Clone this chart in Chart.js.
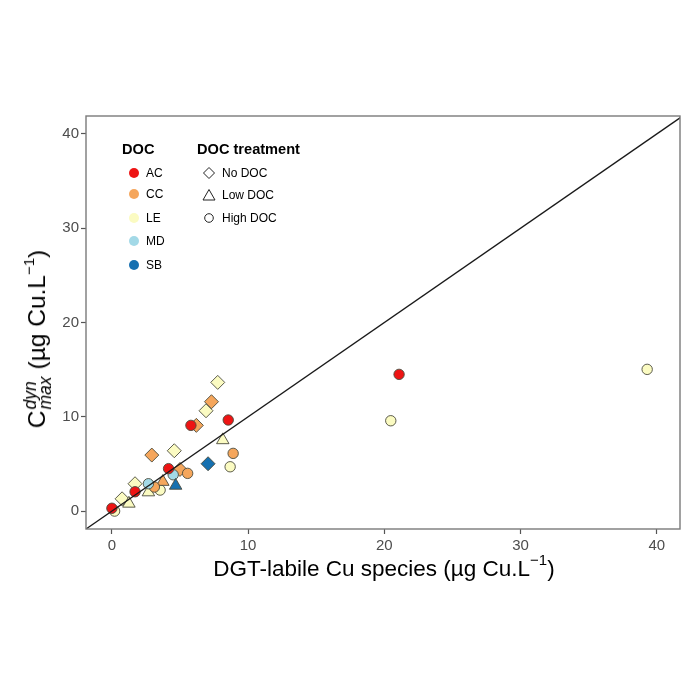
<!DOCTYPE html>
<html>
<head>
<meta charset="utf-8">
<script src="https://cdn.jsdelivr.net/npm/chart.js@4.4.0/dist/chart.umd.min.js"></script>
<style>
  html,body{margin:0;padding:0;background:#fff;}
  #wrap{position:relative;width:700px;height:700px;font-family:"Liberation Sans",Arial,Helvetica,sans-serif;color:#000;}
  #c{position:absolute;left:0;top:0;}
  .xt{position:absolute;left:0;width:700px;top:556px;text-align:center;font-size:22.5px;white-space:nowrap;}
  .xt span.in{position:relative;left:34px;}
  .yt{position:absolute;left:38px;top:339px;width:0;height:0;}
  .yt .rot{position:absolute;left:0;top:0;transform:translate(-50%,-50%) rotate(-90deg);white-space:nowrap;font-size:24.5px;}
  .ss{display:inline-block;vertical-align:-6px;line-height:15px;font-size:17.5px;font-style:italic;margin-left:1px;margin-right:7px;text-align:left;}
  .ss span{display:block;}
  sup.m{font-size:15px;vertical-align:11px;line-height:0;}
  .lg{position:absolute;font-size:12px;white-space:nowrap;}
  .lh{position:absolute;font-size:14.6px;font-weight:bold;white-space:nowrap;}
  .sym{position:absolute;}
</style>
</head>
<body>
<div id="wrap">
  <canvas id="c" width="700" height="700"></canvas>
  <div class="xt"><span class="in">DGT-labile Cu species (µg Cu.L<sup class="m">−1</sup>)</span></div>
  <div class="yt"><div class="rot">C<span class="ss"><span>dyn</span><span>max</span></span>(µg Cu.L<sup class="m">−1</sup>)</div></div>
  <div id="legend"></div>
</div>
<script>
// ---- data ----
const xTicks = [0, 10, 20, 30, 40];
const yTicks = [0, 10, 20, 30, 40];
const siteNames = ['AC', 'CC', 'LE', 'MD', 'SB'];
const treatmentNames = ['No DOC', 'Low DOC', 'High DOC'];

const acX = [21.08, 8.54, 5.80, 4.16, 1.70, 0.00];
const acY = [14.50, 9.66, 9.09, 4.50, 2.05, 0.30];
const acT = ['High DOC', 'High DOC', 'High DOC', 'High DOC', 'High DOC', 'High DOC'];

const ccX = [7.31, 6.20, 2.93, 8.90, 5.00, 5.56, 3.74, 3.12];
const ccY = [11.60, 9.09, 5.94, 6.12, 4.42, 4.00, 3.11, 2.55];
const ccT = ['No DOC', 'No DOC', 'No DOC', 'High DOC', 'No DOC', 'High DOC', 'Low DOC', 'High DOC'];

const leX = [7.77, 6.91, 8.14, 4.58, 8.68, 3.54, 2.68, 1.70, 0.75, 1.25, 0.20, 20.47, 39.29];
const leY = [13.65, 10.64, 7.53, 6.40, 4.70, 2.23, 2.00, 2.90, 1.30, 0.80, 0.00, 9.58, 15.03];
const leT = ['No DOC', 'No DOC', 'Low DOC', 'No DOC', 'High DOC', 'High DOC', 'Low DOC', 'No DOC', 'No DOC', 'Low DOC', 'High DOC', 'High DOC', 'High DOC'];

const mdX = [2.68, 4.50];
const mdY = [2.90, 3.85];
const mdT = ['High DOC', 'High DOC'];

const sbX = [7.06, 4.68];
const sbY = [5.02, 2.70];
const sbT = ['No DOC', 'Low DOC'];

const refLineX = [-5, 50];
const refLineY = [-5, 50];

// ---- styles ----
const siteColors = {AC: '#ee1414', CC: '#f5a65c', LE: '#fbfbc2', MD: '#a3d9e7', SB: '#1670b0'};
const shapeOf = {'No DOC': 'rectRot', 'Low DOC': 'triangle', 'High DOC': 'circle'};
const sizeOf = {'No DOC': 7, 'Low DOC': 7.2, 'High DOC': 5.2};

function pts(xs, ys, ts) { return xs.map((x, i) => ({x: x, y: ys[i], t: ts[i]})); }

function siteDataset(name, xs, ys, ts) {
  return {
    type: 'scatter',
    label: name,
    data: pts(xs, ys, ts),
    backgroundColor: siteColors[name],
    borderColor: '#4b4b3c',
    borderWidth: 0.9,
    pointStyle: c => shapeOf[c.raw.t],
    pointRadius: c => sizeOf[c.raw.t],
    pointHoverRadius: c => sizeOf[c.raw.t]
  };
}

const boxPlugin = {
  id: 'box',
  afterDraw(chart) {
    const a = chart.chartArea, ctx = chart.ctx;
    ctx.save();
    ctx.strokeStyle = '#7a7a7a';
    ctx.lineWidth = 1.4;
    ctx.strokeRect(a.left, a.top, a.right - a.left, a.bottom - a.top);
    ctx.restore();
  }
};

const tickFont = {family: '"Liberation Sans", Arial, sans-serif', size: 15};

new Chart(document.getElementById('c'), {
  type: 'scatter',
  data: {
    datasets: [
      {
        type: 'line',
        label: 'y = x',
        data: refLineX.map((x, i) => ({x: x, y: refLineY[i]})),
        borderColor: '#1a1a1a',
        borderWidth: 1.3,
        pointRadius: 0,
        fill: false
      },
      siteDataset('SB', sbX, sbY, sbT),
      siteDataset('AC', acX, acY, acT),
      siteDataset('MD', mdX, mdY, mdT),
      siteDataset('CC', ccX, ccY, ccT),
      siteDataset('LE', leX, leY, leT)
    ]
  },
  options: {
    responsive: false,
    animation: false,
    devicePixelRatio: 1,
    layout: {padding: {left: 0, right: 20, top: 116, bottom: 0}},
    plugins: {legend: {display: false}, tooltip: {enabled: false}},
    scales: {
      x: {
        type: 'linear', min: -1.9, max: 41.7,
        afterBuildTicks: ax => { ax.ticks = xTicks.map(v => ({value: v})); },
        afterFit: ax => { ax.height = 171; },
        grid: {drawOnChartArea: false, drawTicks: true, tickLength: 5, tickColor: '#555', tickWidth: 1.2},
        border: {display: false},
        ticks: {font: tickFont, color: '#4d4d4d', padding: 3, maxRotation: 0}
      },
      y: {
        type: 'linear', min: -1.9, max: 41.9,
        afterBuildTicks: ax => { ax.ticks = yTicks.map(v => ({value: v})); },
        afterFit: ax => { ax.width = 86; },
        grid: {drawOnChartArea: false, drawTicks: true, tickLength: 5, tickColor: '#555', tickWidth: 1.2},
        border: {display: false},
        ticks: {font: tickFont, color: '#4d4d4d', padding: 2}
      }
    }
  },
  plugins: [boxPlugin]
});

// ---- legend (HTML text) ----
const lg = document.getElementById('legend');
function add(html) { lg.insertAdjacentHTML('beforeend', html); }
add('<div class="lh" style="left:122px;top:141px">DOC</div>');
add('<div class="lh" style="left:197px;top:141px">DOC treatment</div>');
const siteRows = [173, 194, 218, 241, 265];
siteNames.forEach((n, i) => {
  const cy = siteRows[i];
  add('<svg class="sym" style="left:127px;top:' + (cy - 7) + 'px" width="14" height="14"><circle cx="7" cy="7" r="5" fill="' + siteColors[n] + '"/></svg>');
  add('<div class="lg" style="left:146px;top:' + (cy - 7) + 'px">' + n + '</div>');
});
const legendShapes = {
  'No DOC': '<polygon points="7,1.5 12.5,7 7,12.5 1.5,7" fill="none" stroke="#222" stroke-width="1"/>',
  'Low DOC': '<polygon points="7,1.5 13,12 1,12" fill="none" stroke="#222" stroke-width="1"/>',
  'High DOC': '<circle cx="7" cy="7" r="4.3" fill="none" stroke="#222" stroke-width="1"/>'
};
const treatRows = [173, 195, 218];
treatmentNames.forEach((n, i) => {
  const cy = treatRows[i];
  add('<svg class="sym" style="left:202px;top:' + (cy - 7) + 'px" width="14" height="14">' + legendShapes[n] + '</svg>');
  add('<div class="lg" style="left:222px;top:' + (cy - 7) + 'px">' + n + '</div>');
});
</script>
</body>
</html>
